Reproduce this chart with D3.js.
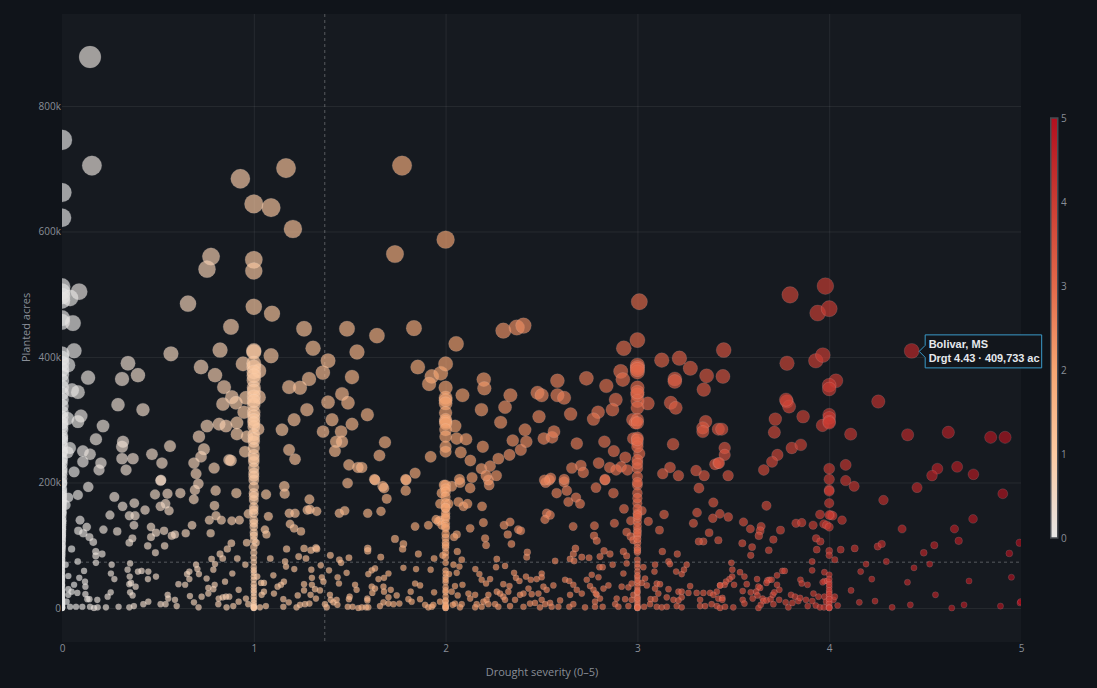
<!DOCTYPE html>
<html>
<head>
<meta charset="utf-8">
<script src="https://cdn.jsdelivr.net/npm/d3@7"></script>
<style>
  html, body { margin: 0; padding: 0; background: #10141a; overflow: hidden; }
  svg { display: block; }
  text { font-family: "Open Sans", "Noto Sans", sans-serif; opacity: 0.99; }
</style>
</head>
<body>
<div id="chart"></div>
<script>
// Counties reporting whole-number drought scores: acres planted, in thousands.
const atSeverity0 = [746,662,622,512,504,497,490,462,456,405,398,390,380,372,362,352,342,332,322,312,304,295,284,274,266,258,248,238,230,222,213,206,198,190,182,174,168,160,152,145,138,132,125,118,112,105,98,92,85,78,72,66,60,54,48,42,36,30,26,22,18,14,10,7,4,2,1,0,0,
  170,155,140,128,115,100,88,76,64,52,44,35,28,20,15,8,3,0,1,5,
  290,270,250,235,218,200,186,178,164,150,135,122,108,95,82,70,58,47,38,24,12,6];
const atSeverity1 = [644,555,537,480,410,408,390,384,376,363,351,346,337,324,312,306,300,289,276,265,255,244,233,223,215,204,193,183,172,161,151,140,129,120,108,97,88,73,65,56,45,33,24,13,2,0,
  370,330,295,270,238,210,178,156,135,115,80,60,50,38,28,18,8,4,0,1];
const atSeverity2 = [587,389,351,335,331,326,311,300,297,294,284,273,257,249,196,190,185,177,167,159,151,143,135,127,112,104,96,88,81,72,49,41,33,25,18,10,2,0,
  160,146,130,118,100,60,55,45,28,12,5,0,3];
const atSeverity3 = [427,387,383,376,351,340,330,319,300,295,271,263,257,236,223,209,196,183,167,151,137,124,116,104,89,77,65,49,40,29,18,2,0,
  380,344,268,230,200,175,158,144,130,110,96,70,58,44,34,24,12,8,4,0,
  148,120,92,52,26,15,1];
const atSeverity4 = [477,355,349,308,303,297,295,222,205,188,186,167,148,129,91,84,53,41,33,25,18,10,2,0,
  46,37,28,22,14,6,1,0];

// Counties with a fractional score, as [severity, thousand acres].
const tallCounties = [
  [.146,878],[.156,705],[.93,684],[1.168,701],[1.773,705],[1.09,638],[1.204,604],[.777,560],[.756,540],[1.736,564],[.657,485],[.881,448],[1.095,469],[1.262,445],[1.486,445],[1.835,446],[1.642,434],[1.309,414],[.824,411],[.568,405],[1.09,402],[1.538,408],[1.387,394],[1.36,375],[1.288,365],[1.512,368],[1.184,352],[1.241,351],[1.387,328],[1.46,341],[1.491,327],[1.277,316],[1.21,300],[1.408,300],[1.512,293],[1.147,284],[1.361,281],[1.455,281],[1.46,265],[1.429,265],[1.423,250],[1.184,252],[1.215,237],[1.496,228],[1.543,224],
  [.089,504],[.042,494],[.057,454],[.063,410],[.031,387],[.136,367],[.083,344],[.052,347],[.344,390],[.396,371],[.313,365],[.292,324],[.422,316],[.725,384],[.798,371],[.845,352],[.886,336],[.839,325],[.907,327],[.959,335],[.944,389],[.949,312],[1.027,336],[1.027,378],[.756,290],[.819,293],[.855,290],[.912,295],[.912,277],[.965,273],[1.022,285],[.714,273],[.74,253],[.725,241],[.954,249],[.871,236],[.881,235],[.793,223],[.688,231],[.699,214],[.563,258],[.469,245],[.521,231],[.516,204],[.318,265],[.313,257],[.313,238],[.37,238],[.334,220],[.214,290],[.177,269],[.099,306],[.083,297],[.109,250],[.146,245],[.109,233],[.203,231],[.193,220],[.063,217],[.042,255],[.03,248],[.03,302],[.02,164]
];
const leftLowCounties = [
  [.137,193],[.083,180],[.033,176],[.273,177],[.316,162],[.377,167],[.433,156],[.351,147],[.381,147],[.25,148],[.094,140],[.129,129],[.085,123],[.111,119],[.143,113],[.163,105],[.216,125],[.288,122],[.375,132],[.464,129],[.49,120],[.532,123],[.464,113],[.367,111],[.351,104],[.447,99],[.535,99],[.487,88],[.05,94],[.176,90],[.209,86],[.176,83],[.082,74],[.177,72],[.355,71],[.019,69],[.259,69],[.342,61],[.396,58],[.415,59],[.45,58],[.115,59],[.255,55],[.273,46],[.353,50],[.49,50],[.448,46],[.033,51],[.09,48],[.12,42],[.063,37],[.122,34],[.351,38],[.36,40],[.384,34],[.355,25],[.368,20],[.254,25],[.238,18],[.122,22],[.132,14],[.143,14],[.184,13],[.033,30],[.05,26],[.08,24],[.033,21],[.024,10],[.042,2],[.073,2],[.106,2],[.146,2],[.167,0],[.186,1],[.229,1],[.295,2],[.351,1],[.375,3],[.424,6],[.45,10],[.514,6],[.54,6],[.551,21],[.554,15],[.589,13],[.598,3],[.607,38],[.642,37],[.652,54],[.664,58],[.664,46],[.667,19],[.688,9],[.712,1],[.728,18],[.699,69],[.706,62],[.714,54],[.754,47],[.763,32],[.796,37],[.789,30],[.763,23],[.789,61],[.798,70],[.78,78],[.838,79],[.824,86],[.862,94],[.883,103],[.914,79],[.956,69],[.888,55],[.85,42],[.921,29],[.817,15],[.838,17],[.872,18],[.855,18],[.815,6],[.858,1],[.893,3],[.921,10],[.959,15],[.971,6],[.963,104],[1.011,104],[.971,150],[.768,140],[.803,147],[.831,140],[.885,139],[.925,140],[.775,119],[.678,132],[.645,119],[.589,117],[.572,115],[.687,173],[.693,188],[.711,198],[.514,203],[.485,181],[.55,182],[.54,166],[.513,162],[.558,155],[.617,183],[.801,187],[.795,163],[.909,183],
  [1.064,181],[1.076,146],[1.058,125],[1.066,117],[1.159,194],[1.161,182],[1.185,151],[1.215,151],[1.189,134],[1.21,127],[1.246,122],[1.29,173],[1.279,156],[1.293,157],[1.328,154],[1.446,151],[1.474,155],[1.489,199],[1.171,94],[1.234,82],[1.262,95],[1.272,79],[1.298,92],[1.324,96],[1.328,94],[1.086,79],[1.163,74],[1.168,66],[1.211,62],[1.3,61],[1.349,68],[1.399,84],[1.446,77],[1.455,72],[1.496,80],[1.392,60],[1.484,56],[1.437,49],[1.444,39],[1.355,49],[1.363,42],[1.303,48],[1.303,37],[1.262,38],[1.262,28],[1.229,20],[1.296,21],[1.319,30],[1.345,28],[1.324,15],[1.157,42],[1.142,37],[1.124,34],[1.102,52],[1.053,40],[1.038,40],[1.018,50],[1.053,26],[1.105,23],[1.041,21],[1.154,14],[1.182,9],[1.154,2],[1.063,3],[1.032,1],[1.223,1],[1.241,5],[1.267,6],[1.29,7],[1.371,6],[1.38,1],[1.397,21],[1.401,13],[1.415,9],[1.432,13],[1.436,5],[1.49,2],[1.496,14],[1.515,2],[1.545,0],[1.528,37],[1.536,29],[1.5,18]
];
const middleUpperCounties = [
  [2.055,421],[1.855,384],[1.928,369],[1.975,374],[1.914,357],[2.199,364],[2.202,350],[2.088,339],[2.338,339],[2.31,320],[2.187,316],[2.287,296],[1.592,308],[1.684,264],[1.655,243],[1.563,224],[1.841,215],[1.792,205],[1.629,205],[1.922,241],[2.049,290],[2.058,270],[2.107,269],[2.079,248],[2.129,235],[2.194,257],[2.275,238],[2.333,244],[2.392,252],[2.421,265],[2.35,267],[2.414,284],[2.187,222],[2.232,226],[2.211,211],[2.265,211],[2.138,208],[2.072,205],[2.301,442],[2.371,447],[2.406,450],[2.479,343],[2.501,339],[2.583,339],[2.618,335],[2.583,362],[2.734,366],[2.838,354],[2.887,332],[2.87,316],[2.913,377],[2.924,364],[2.929,414],[2.795,312],[2.771,301],[2.652,309],[2.487,305],[2.512,270],[2.555,272],[2.565,281],[2.684,262],[2.828,265],[2.877,250],[2.937,240],[2.915,225],[2.856,224],[2.889,220],[2.948,220],[2.798,231],[2.705,227],[2.658,223],[2.718,216],[2.618,205],[2.548,207],[2.515,204],[2.831,205],[2.976,300],[2.99,295],[2.979,270],[3.01,246],[3.01,488],[3.054,326],[3.127,395],[3.219,398],[3.276,382],[3.361,370],[3.346,348],[3.195,365],[3.195,361],[3.174,327],[3.2,319],[3.45,411],[3.446,369],[3.356,297],[3.341,287],[3.341,281],[3.422,285],[3.186,261],[3.405,229],[3.422,231],[3.17,224],[3.132,214],[3.214,211],[3.306,219],[3.348,211]
];
const middleLowCounties = [
  [1.632,204],[1.679,191],[1.672,194],[1.693,174],[1.792,187],[1.794,204],[1.594,151],[1.663,154],[1.841,130],[1.91,132],[1.736,110],[1.78,102],[1.776,94],[1.594,95],[1.594,91],[1.858,86],[1.662,81],[1.94,79],[1.78,64],[1.846,62],[1.922,61],[1.632,63],[1.615,60],[1.597,54],[1.702,55],[1.679,48],[1.65,46],[1.841,39],[1.867,36],[1.615,34],[1.632,31],[1.618,24],[1.676,34],[1.679,26],[1.714,29],[1.94,25],[1.818,26],[1.745,20],[1.702,17],[1.592,15],[1.592,12],[1.806,14],[1.867,14],[1.823,10],[1.676,9],[1.702,7],[1.728,6],[1.759,7],[1.658,3],[1.585,1],[1.597,1],[1.563,1],[1.893,5],[1.91,1],[1.928,2],[1.936,5],[1.971,10],[1.971,140],[1.962,138],[1.95,141],[1.98,132],[1.98,183],[1.992,196],[1.971,166],[2.015,166],[2.032,194],[2.075,200],[2.128,191],[2.067,169],[2.093,162],[2.114,166],[2.19,162],[2.227,196],[2.223,204],[2.197,136],[2.128,127],[2.058,117],[2.044,113],[1.985,84],[2.061,90],[2.084,77],[2.072,66],[2.058,56],[2.041,69],[2.018,54],[2.088,37],[2.049,35],[2.032,26],[2.063,20],[2.049,7],[2.084,6],[2.075,1],[2.037,5],[2.119,23],[2.128,15],[2.154,21],[2.162,6],[2.154,1],[2.188,2],[2.197,10],[2.223,21],[2.214,13],[2.223,6],[2.258,6],[2.275,2],[2.301,18],[2.31,13],[2.267,26],[2.284,23],[2.327,26],[2.301,38],[2.333,35],[2.155,62],[2.176,54],[2.188,45],[2.211,39],[2.232,46],[2.263,65],[2.267,78],[2.31,67],[2.357,56],[2.367,48],[2.385,43],[2.419,50],[2.444,45],[2.475,46],[2.501,55],[2.501,49],[2.362,13],[2.406,23],[2.432,31],[2.388,21],[2.449,22],[2.44,7],[2.466,8],[2.406,2],[2.336,3],[2.484,23],[2.501,13],[2.51,34],[2.562,36],[2.527,29],[2.519,6],[2.492,1],[2.545,8],[2.597,12],[2.588,2],[2.553,2],[2.645,2],[2.666,6],[2.623,45],[2.645,43],[2.666,37],[2.649,21],[2.684,29],[2.71,23],[2.736,45],[2.753,35],[2.771,29],[2.788,21],[2.762,53],[2.797,49],[2.802,65],[2.819,65],[2.783,23],[2.823,31],[2.849,36],[2.779,10],[2.805,15],[2.779,2],[2.819,2],[2.727,1],[2.892,15],[2.884,6],[2.901,2],[2.936,14],[2.953,3],[2.97,13],[2.979,21],[2.918,34],[2.953,33],[2.97,39],[2.927,55],[2.944,71],[2.927,90],[2.944,83],[2.571,75],[2.649,78],[2.67,75],[2.71,81],[2.748,80],[2.805,82],[2.826,91],[2.857,86],[2.871,69],[2.666,86],[2.677,95],[2.423,81],[2.426,89],[2.665,130],[2.776,131],[2.774,115],[2.788,107],[2.88,135],[2.93,158],[2.965,139],[2.944,121],[2.965,114],[2.979,108],[3.023,155],[3.057,138],[3.115,124],[3.139,149],[3.13,90],[3.208,86],[3.162,74],[3.17,70],[3.092,69],[3.031,65],[3.089,58],[3.202,58],[3.231,54],[3.243,61],[3.257,69],[3.04,47],[3.023,40],[3.049,36],[3.101,39],[3.118,38],[3.092,31],[3.109,23],[3.162,30],[3.153,17],[3.214,26],[3.231,26],[3.266,24],[3.275,35],[3.231,17],[3.188,13],[3.214,12],[3.069,14],[3.092,14],[3.066,6],[3.101,2],[3.127,1],[3.153,2],[3.205,3],[3.231,1],[3.035,2],[3.309,24],[3.344,24],[3.379,24],[3.414,26],[3.431,36],[3.327,13],[3.327,3],[3.353,3],[3.387,6],[3.414,3],[3.396,21],[3.422,15],[3.344,106],[3.32,106],[3.292,135],[3.311,152],[3.393,143],[3.396,168],[3.374,120],[3.321,191],[3.422,108],[2.784,192],[2.831,204],[2.875,183],[2.579,183],[2.632,187],[2.64,169],[2.68,176],[2.701,166],[2.522,200],[2.541,204],[2.618,201],[2.527,151],[2.545,148],[2.518,141],[2.305,132],[2.336,137],[2.324,117],[2.379,125],[2.392,123],[2.343,102],[2.206,111],[2.211,100]
];
const severeCounties = [
  [4.256,329],[3.44,285],[3.779,329],[3.791,321],[3.719,301],[3.714,280],[3.864,305],[3.965,291],[4.112,277],[4.409,276],[4.621,280],[4.842,272],[4.917,272],[3.455,255],[3.455,244],[3.426,231],[3.473,211],[3.805,255],[3.852,260],[3.73,244],[3.702,233],[3.659,220],[4.086,228],[4.086,203],[4.13,194],[4.283,172],[4.458,192],[4.564,222],[4.536,211],[4.667,225],[4.752,213],[4.905,182],[4.75,142],[4.653,126],[4.675,107],[4.38,126],[4.253,98],[4.274,102],[4.133,95],[4.06,93],[4.993,104],[4.939,87],[4.548,100],[4.493,88],[4.298,74],[4.192,70],[4.164,58],[4.222,46],[4.442,64],[4.524,70],[4.408,41],[4.729,43],[4.95,49],[4.114,28],[4.157,9],[4.239,11],[4.328,1],[4.423,5],[4.554,21],[4.639,0],[4.703,5],[4.893,3],[4.995,8],[4.998,10],
  [3.673,163],[3.952,149],[4.008,148],[4.018,147],[4.067,140],[3.916,132],[3.827,135],[3.857,136],[3.972,134],[3.987,132],[3.746,124],[3.645,130],[3.64,123],[3.633,115],[3.589,126],[3.553,137],[3.474,145],[3.43,150],[3.709,109],[3.547,103],[3.598,97],[3.685,92],[3.591,84],[3.932,111],[3.954,106],[3.935,93],[4.029,77],[3.911,74],[3.49,72],[3.495,61],[3.535,57],[3.558,50],[3.494,50],[3.48,46],[3.462,42],[3.504,37],[3.455,37],[3.431,36],[3.624,46],[3.688,45],[3.678,44],[3.7,45],[3.673,40],[3.756,59],[3.768,59],[3.728,52],[3.728,37],[3.74,29],[3.57,38],[3.64,32],[3.631,34],[3.549,27],[3.619,26],[3.591,25],[3.626,20],[3.601,15],[3.549,13],[3.558,7],[3.5,1],[3.443,16],[3.443,13],[3.431,0],[3.457,2],[3.653,15],[3.657,11],[3.674,12],[3.695,14],[3.706,21],[3.714,25],[3.739,13],[3.709,6],[3.631,0],[3.643,5],[3.773,9],[3.787,1],[3.808,8],[3.801,21],[3.822,18],[3.839,11],[3.848,16],[3.879,13],[3.888,3],[3.912,11],[3.918,23],[3.944,18],[3.93,4],[3.952,1],[3.975,18],[3.984,10],[3.973,1],[4.022,13],[4.029,18],[4.044,4],[3.85,45],[3.857,39],[3.887,37],[3.911,60],[3.975,57],[3.975,43],[3.966,41],[3.99,43],
  [3.98,513],[3.796,499],[3.94,470],[3.78,390],[3.93,394],[3.967,403],[4.035,362],[3.775,332]
];

// Reference levels and the highlighted county.
const meanSeverity = 1.37;
const meanAcres = 73;
const highlightCounty = { name: "Bolivar, MS", severity: 4.43, acres: 409.733, detail: "Drgt 4.43 · 409,733 ac" };

const severityTicks = [0, 1, 2, 3, 4, 5];
const acreTicks = [0, 200, 400, 600, 800];
const legendTicks = [0, 1, 2, 3, 4, 5];
const rampStops = ["#e6e6e6", "#fbc9a2", "#f5a572", "#e2694a", "#cb3c33", "#b2101f"];

const width = 1097, height = 688;
const frame = { left: 62, right: 1021, top: 14, bottom: 642 };
const gridColor = "rgba(255,255,255,0.07)";
const tickColor = "#8b9099";

const x = d3.scaleLinear().domain([0, 5]).range([frame.left, frame.right]);
const y = d3.scaleLinear().domain([-54.2, 946.6]).range([frame.bottom, frame.top]);
const radius = d3.scaleSqrt().domain([0, 1000]).range([0, 11.69]);
const color = d3.scaleLinear().domain(legendTicks).range(rampStops).clamp(true);
const size = k => Math.max(3.1, radius(k));

const stripe = (values, s) => values.map(a => [s, a]);
const counties = [
  ...stripe(atSeverity0, 0),
  ...leftLowCounties, ...tallCounties,
  ...stripe(atSeverity1, 1),
  ...middleLowCounties, ...middleUpperCounties,
  ...stripe(atSeverity2, 2),
  ...stripe(atSeverity3, 3),
  ...severeCounties,
  ...stripe(atSeverity4, 4),
  [highlightCounty.severity, highlightCounty.acres]
];

const svg = d3.select("#chart").append("svg").attr("width", width).attr("height", height);

svg.append("rect").attr("x", frame.left).attr("y", frame.top)
  .attr("width", frame.right - frame.left).attr("height", frame.bottom - frame.top)
  .attr("fill", "#161a20");

svg.append("defs").append("clipPath").attr("id", "frame-clip").append("rect")
  .attr("x", frame.left).attr("y", frame.top)
  .attr("width", frame.right - frame.left).attr("height", frame.bottom - frame.top);

// Axes, with their tick lines stretched across the plot as a grid.
const xAxis = svg.append("g").attr("transform", `translate(0,${frame.bottom})`)
  .call(d3.axisBottom(x).tickValues(severityTicks).tickFormat(d3.format("d")));
xAxis.select(".domain").remove();
xAxis.selectAll(".tick line").attr("y2", -(frame.bottom - frame.top)).attr("stroke", gridColor)
  .attr("display", d => (d === 0 || d === 5) ? "none" : null);
xAxis.selectAll(".tick text").attr("y", 6).attr("dy", "0.35em").attr("fill", tickColor).attr("font-size", 10);

const yAxis = svg.append("g").attr("transform", `translate(${frame.left},0)`)
  .call(d3.axisLeft(y).tickValues(acreTicks).tickSize(0).tickPadding(1).tickFormat(d => d === 0 ? "0" : d + "k"));
yAxis.select(".domain").remove();
yAxis.selectAll(".tick line").attr("x2", frame.right - frame.left).attr("stroke", gridColor);
yAxis.selectAll(".tick text").attr("fill", tickColor).attr("font-size", 10);

// Dashed reference lines at the national means.
svg.append("line").attr("x1", x(meanSeverity)).attr("x2", x(meanSeverity))
  .attr("y1", frame.top).attr("y2", frame.bottom)
  .attr("stroke", "rgba(255,255,255,0.28)").attr("stroke-dasharray", "3 3");
svg.append("line").attr("x1", frame.left).attr("x2", frame.right)
  .attr("y1", y(meanAcres)).attr("y2", y(meanAcres))
  .attr("stroke", "rgba(255,255,255,0.28)").attr("stroke-dasharray", "3 3");

// One circle per county.
svg.append("g").attr("clip-path", "url(#frame-clip)")
  .selectAll("circle").data(counties).join("circle")
  .attr("cx", d => x(d[0]))
  .attr("cy", d => y(d[1]))
  .attr("r", d => size(d[1]))
  .attr("fill", d => color(d[0]))
  .attr("opacity", 0.66)
  .attr("stroke", "rgba(255,255,255,0.22)")
  .attr("stroke-width", 0.8);

// Axis titles.
svg.append("text").attr("x", 542).attr("y", 676).attr("text-anchor", "middle")
  .attr("fill", tickColor).attr("font-size", 11)
  .text("Drought severity (0–5)");
svg.append("text").attr("transform", "translate(30,327.5) rotate(-90)").attr("text-anchor", "middle")
  .attr("fill", tickColor).attr("font-size", 11)
  .text("Planted acres");

// Colour legend.
const barScale = d3.scaleLinear().domain([0, 5]).range([538, 118]);
const gradient = svg.select("defs").append("linearGradient").attr("id", "severity-ramp")
  .attr("x1", 0).attr("x2", 0).attr("y1", 1).attr("y2", 0);
gradient.selectAll("stop").data(legendTicks).join("stop")
  .attr("offset", d => d / 5).attr("stop-color", d => color(d));
svg.append("rect").attr("x", 1050.75).attr("y", barScale(5))
  .attr("width", 7).attr("height", barScale(0) - barScale(5))
  .attr("fill", "url(#severity-ramp)").attr("stroke", "#474b52").attr("stroke-width", 1.5);
svg.append("g").selectAll("text").data(legendTicks).join("text")
  .attr("x", 1061).attr("y", d => barScale(d)).attr("dy", "0.35em")
  .attr("fill", tickColor).attr("font-size", 10).text(d => d);

// Hover callout for the highlighted county.
const hx = x(highlightCounty.severity), hy = y(highlightCounty.acres);
const callout = svg.append("g").attr("transform", `translate(${hx + 7.5},${hy + 0.5})`);
callout.append("path")
  .attr("d", "M0,0 L6,-6 L6,-16.5 L122.5,-16.5 L122.5,16.5 L6,16.5 L6,6 Z")
  .attr("fill", "#12161c").attr("stroke", "#3a9ac9").attr("stroke-width", 1);
callout.append("text").attr("x", 9.5).attr("y", -3.5).attr("fill", "#e8ebf0")
  .style("font-family", '"Liberation Sans", Arial, sans-serif').attr("font-size", 11).attr("font-weight", 700)
  .text(highlightCounty.name);
callout.append("text").attr("x", 9.5).attr("y", 10.5).attr("fill", "#e8ebf0")
  .style("font-family", '"Liberation Sans", Arial, sans-serif').attr("font-size", 11).attr("font-weight", 700)
  .attr("letter-spacing", -0.05).text(highlightCounty.detail);
</script>
</body>
</html>
